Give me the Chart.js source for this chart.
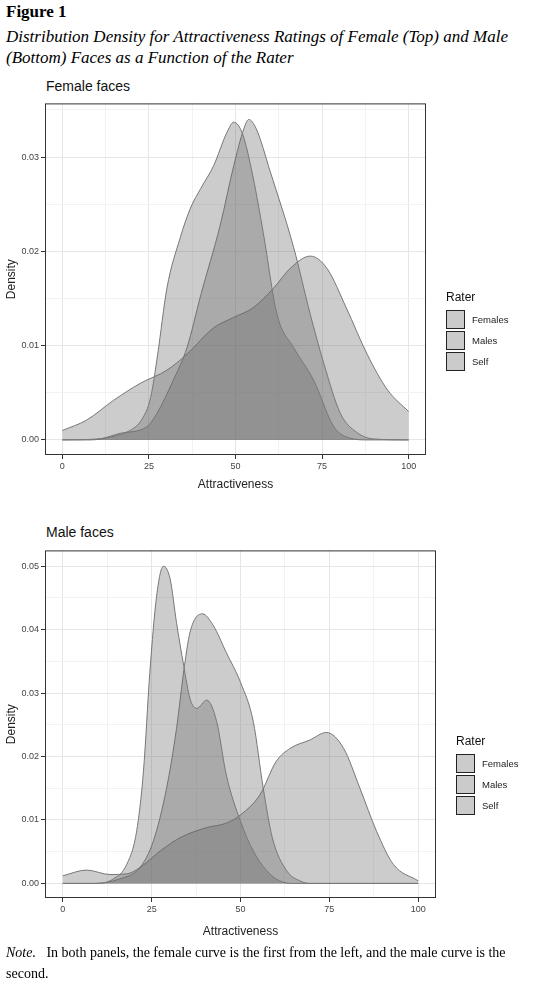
<!DOCTYPE html>
<html><head><meta charset="utf-8">
<script src="https://cdn.jsdelivr.net/npm/chart.js@4"></script>
<style>
body{margin:0;background:#fff;width:540px;height:987px;position:relative;overflow:hidden;font-family:"Liberation Sans",Arial,sans-serif}
.abs{position:absolute}
.serif{font-family:"Liberation Serif","Times New Roman",serif}
.ptitle{font-size:14px;color:#111}
.leg .t{font-size:12px;color:#111}
.leg .b{position:absolute;width:19px;height:19px;border:1px solid #222;background:#cbcbcb;box-sizing:border-box}
.leg .l{position:absolute;font-size:9.5px;color:#222}
</style></head><body>
<div class="abs serif" style="left:6px;top:2px;font-size:17px;font-weight:bold">Figure 1</div>
<div class="abs serif" style="left:6px;top:26px;font-size:17px;font-style:italic;line-height:21px;width:534px">Distribution Density for Attractiveness Ratings of Female (Top) and Male (Bottom) Faces as a Function of the Rater</div>
<div class="abs ptitle" style="left:46px;top:78px">Female faces</div>
<div class="abs ptitle" style="left:46px;top:524px">Male faces</div>
<div class="abs" style="left:0;top:96px;width:540px;height:400px"><canvas id="c1"></canvas></div>
<div class="abs" style="left:0;top:543px;width:540px;height:400px"><canvas id="c2"></canvas></div>
<div class="abs leg" id="leg1" style="left:446px;top:290px"></div>
<div class="abs leg" id="leg2" style="left:456px;top:734px"></div>
<div class="abs serif" style="left:6px;top:942px;font-size:14px;line-height:21px;width:530px"><i>Note.</i>&nbsp;&nbsp;&nbsp;In both panels, the female curve is the first from the left, and the male curve is the second.</div>
<script>
const raters = ['Females', 'Males', 'Self'];

// Female faces
const ffFemalesX = [0, 10, 15, 19, 23, 25.5, 27.5, 30.2, 34, 37, 40, 43.7, 47.5, 49.5, 52, 55, 58, 62, 66.8, 72.6, 78.4, 83, 88, 100];
const ffFemalesY = [0, 0.0001, 0.0004, 0.0009, 0.0022, 0.0045, 0.009, 0.0161, 0.0214, 0.0246, 0.0267, 0.0291, 0.0326, 0.0337, 0.0325, 0.028, 0.022, 0.0133, 0.0098, 0.0063, 0.0014, 0.0002, 0, 0];
const ffMalesX = [0, 8, 11, 16.7, 24.4, 27.3, 32, 36, 40, 45.6, 49.5, 52.4, 53.8, 56, 60, 66.8, 71.6, 75.5, 80.3, 85, 90, 100];
const ffMalesY = [0, 0, 0.0001, 0.0007, 0.0014, 0.0028, 0.0063, 0.0098, 0.0154, 0.0228, 0.0291, 0.033, 0.034, 0.033, 0.0285, 0.0204, 0.0133, 0.0081, 0.0028, 0.0008, 0.0001, 0];
const ffSelfX = [0, 7, 14.8, 22.5, 30.2, 36, 43.7, 49.5, 55, 61, 65.8, 71.6, 76.4, 82, 88, 93.9, 100];
const ffSelfY = [0.001, 0.0021, 0.0042, 0.006, 0.0074, 0.0091, 0.0119, 0.013, 0.014, 0.0161, 0.0182, 0.0195, 0.0182, 0.014, 0.0091, 0.0053, 0.003];

// Male faces
const mfFemalesX = [0, 9.6, 14.2, 18, 20.8, 22.7, 24.5, 26.4, 28.3, 30.2, 32, 34, 35.8, 37.7, 40.5, 43.3, 46, 50, 53.6, 57.4, 61, 65, 100];
const mfFemalesY = [0, 0, 0.0007, 0.003, 0.0083, 0.0177, 0.0333, 0.0453, 0.05, 0.0480, 0.0411, 0.0344, 0.0291, 0.0276, 0.0289, 0.0255, 0.0171, 0.0098, 0.0051, 0.002, 0.0004, 0, 0];
const mfMalesX = [0, 8.6, 16, 21.7, 25.5, 29.2, 32, 34, 35.8, 39.3, 42.4, 46, 50, 53.6, 56.4, 59, 63, 66.7, 69.5, 100];
const mfMalesY = [0, 0, 0.0007, 0.0025, 0.0067, 0.0150, 0.0244, 0.0333, 0.0396, 0.0425, 0.0406, 0.0364, 0.0317, 0.0255, 0.015, 0.0071, 0.002, 0.0004, 0, 0];
const mfSelfX = [0, 6.7, 13.3, 18, 21.7, 27.4, 33, 40.5, 46, 50, 55.5, 60, 64, 69.5, 74.2, 79, 83.6, 88.3, 93, 100];
const mfSelfY = [0.0012, 0.0021, 0.0014, 0.0015, 0.0025, 0.0051, 0.0072, 0.0088, 0.0095, 0.0108, 0.0140, 0.0192, 0.0213, 0.0226, 0.0238, 0.0213, 0.015, 0.0082, 0.003, 0.0004];

const xTicks = [0, 25, 50, 75, 100];

function pts(xs, ys) {
  return xs.map((x, i) => ({ x: x, y: ys[i] }));
}

const frame = {
  id: 'frame',
  afterDraw(chart) {
    const a = chart.chartArea, ctx = chart.ctx;
    ctx.save();
    ctx.strokeStyle = '#333';
    ctx.lineWidth = 1;
    ctx.strokeRect(a.left + 0.5, a.top + 0.5, a.right - a.left - 1, a.bottom - a.top - 1);
    ctx.restore();
  },
};

function makeChart(id, series, yMin, yMax, yStep, padRight, xAxisH) {
  const ds = series.map((s, i) => ({
    label: raters[i],
    data: s,
    fill: 'origin',
    backgroundColor: 'rgba(100,100,100,0.33)',
    borderColor: '#777',
    borderWidth: 1,
    pointRadius: 0,
    cubicInterpolationMode: 'monotone',
  }));
  const major = (v, m) => Math.abs(v / m - Math.round(v / m)) < 1e-6;
  return new Chart(document.getElementById(id), {
    type: 'line',
    data: { datasets: ds },
    options: {
      responsive: true,
      maintainAspectRatio: false,
      animation: false,
      layout: { padding: { top: 4, right: padRight, left: 0, bottom: 0 } },
      plugins: { legend: { display: false }, tooltip: { enabled: false } },
      scales: {
        x: {
          type: 'linear', min: -5, max: 105,
          afterBuildTicks: (s) => { s.ticks = [0, 12.5, 25, 37.5, 50, 62.5, 75, 87.5, 100].map((v) => ({ value: v })); },
          afterFit: (s) => { s.height = xAxisH; },
          ticks: {
            autoSkip: false, maxRotation: 0, color: '#444', font: { size: 9 }, padding: 2,
            callback: (v) => (xTicks.includes(v) ? v : ''),
          },
          grid: {
            color: (c) => (c.tick && major(c.tick.value, 25) ? '#e6e6e6' : '#f2f2f2'),
            tickColor: (c) => (c.tick && major(c.tick.value, 25) ? '#333' : 'rgba(0,0,0,0)'),
            tickLength: 4,
          },
          border: { display: false },
          title: { display: true, text: 'Attractiveness', color: '#222', font: { size: 12 }, padding: { top: 0 } },
        },
        y: {
          min: yMin, max: yMax,
          afterBuildTicks: (s) => {
            const t = [];
            for (let v = 0; v <= yMax + 1e-9; v += yStep / 2) t.push({ value: v });
            s.ticks = t;
          },
          afterFit: (s) => { s.width = 45; },
          ticks: {
            autoSkip: false, color: '#444', font: { size: 9 }, padding: 2,
            callback: (v) => (major(v, yStep) ? v.toFixed(2) : ''),
          },
          grid: {
            color: (c) => (c.tick && major(c.tick.value, yStep) ? '#e6e6e6' : '#f2f2f2'),
            tickColor: (c) => (c.tick && major(c.tick.value, yStep) ? '#333' : 'rgba(0,0,0,0)'),
            tickLength: 4,
          },
          border: { display: false },
          title: { display: true, text: 'Density', color: '#222', font: { size: 12 }, padding: { bottom: 0 } },
        },
      },
    },
    plugins: [frame],
  });
}

makeChart('c1', [pts(ffFemalesX, ffFemalesY), pts(ffMalesX, ffMalesY), pts(ffSelfX, ffSelfY)], -0.0016, 0.0357, 0.01, 114, 41);
makeChart('c2', [pts(mfFemalesX, mfFemalesY), pts(mfMalesX, mfMalesY), pts(mfSelfX, mfSelfY)], -0.0023, 0.0525, 0.01, 104, 45);

function legend(id) {
  const el = document.getElementById(id);
  let h = '<div class="t">Rater</div>';
  raters.forEach((r, i) => {
    h += '<div class="b" style="left:0;top:' + (20 + i * 21) + 'px"></div>';
    h += '<div class="l" style="left:26px;top:' + (24 + i * 21) + 'px">' + r + '</div>';
  });
  el.innerHTML = h;
}
legend('leg1');
legend('leg2');
</script>
</body></html>
